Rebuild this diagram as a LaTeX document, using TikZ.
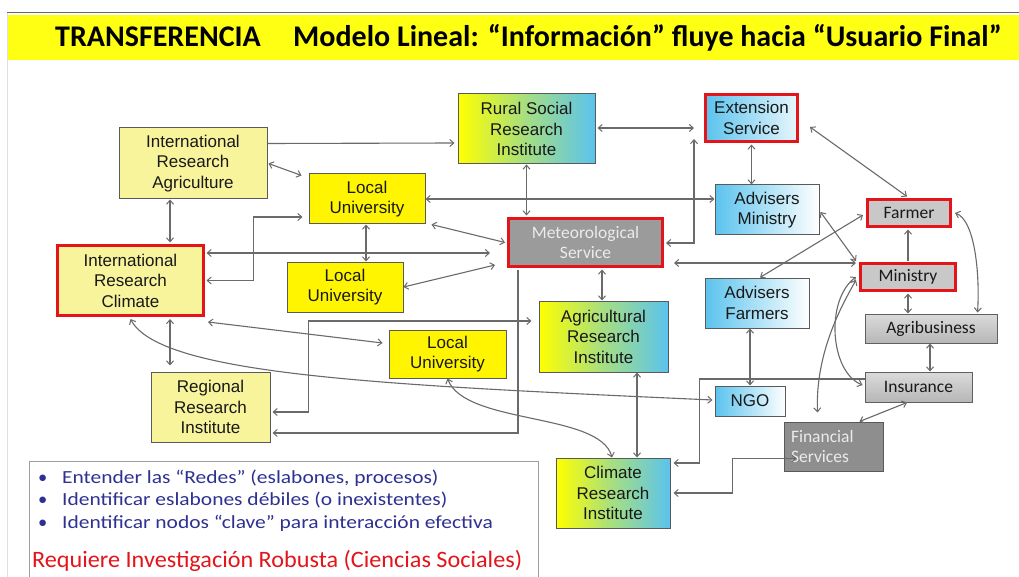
\documentclass[tikz,border=0pt]{standalone}
\usepackage{fontspec}
\setmainfont{Liberation Sans}
\newfontfamily\carl{Carlito}
\usetikzlibrary{arrows.meta,calc}
\definecolor{lightyel}{HTML}{F8F49C}
\definecolor{brightyel}{HTML}{FFF500}
\definecolor{gyel}{HTML}{FFFF00}
\definecolor{gblue}{HTML}{5BC3EE}
\definecolor{bordergray}{HTML}{5A5A5A}
\definecolor{boxred}{HTML}{E3151B}
\definecolor{linegray}{HTML}{6A6A6A}
\definecolor{graybox}{HTML}{C8C8C8}
\definecolor{lgraybox}{HTML}{CBCBCB}
\definecolor{metgray}{HTML}{9B9B9B}
\definecolor{fsgray}{HTML}{8E8E8E}
\definecolor{navy}{HTML}{2E3192}
\definecolor{titleyel}{HTML}{FFFF14}
\begin{document}
\begin{tikzpicture}[x=1pt,y=-1pt,
  >={Straight Barb[length=4pt,width=7pt,line width=1pt]},
  con/.style={draw=linegray, line width=1.1pt},
  box/.style={draw=bordergray, line width=1pt, inner sep=0pt, align=center,
    text=black!90, font=\fontsize{17}{20.5}\selectfont},
  redbox/.style={box, draw=boxred, line width=3pt},
  lyel/.style={fill=lightyel},
  byel/.style={fill=brightyel},
  grad/.style={left color=gyel, right color=gblue, middle color=gyel!45!gblue},
  bgrad/.style={left color=gblue, right color=white},
  cbox/.style={font=\carl\fontsize{17.5}{20}\selectfont},
  btxt/.style={anchor=base west, inner sep=0pt, text=navy, font=\carl\fontsize{18.5}{22}\selectfont}
]
\useasboundingbox (0,0) rectangle (1019,577);
\fill[white] (0,0) rectangle (1019,577);
% slide frame and title band
\fill[titleyel] (7,15) rectangle (1019,60);
\draw[gray!80!black, line width=1pt] (7,13) -- (1019,13);
\draw[gray!25, line width=0.6pt] (7,13) -- (7,577);
\node[anchor=base west, inner sep=0pt, font=\carl\bfseries\fontsize{30}{36}\selectfont] (t1) at (55,47) {TRANSFERENCIA};
\node[anchor=base west, inner sep=0pt, font=\carl\bfseries\fontsize{30}{36}\selectfont] (t2) at (293,47) {Modelo Lineal: “Información” fluye hacia “Usuario Final”};

% nodes
\node[box,lyel,minimum width=148pt,minimum height=71pt] (ira) at (193,163.5) {International\\Research\\Agriculture};
\node[redbox,lyel,minimum width=146pt,minimum height=70pt] (irc) at (130.5,280.5) {International\\Research\\Climate};
\node[box,byel,minimum width=116pt,minimum height=50pt] (lu1) at (367,199) {Local\\University};
\node[box,byel,minimum width=116pt,minimum height=50pt] (lu2) at (345,287) {Local\\University};
\node[box,byel,minimum width=117pt,minimum height=48pt] (lu3) at (447.5,354) {Local\\University};
\node[box,lyel,minimum width=119pt,minimum height=70pt] (rri) at (210.5,407) {Regional\\Research\\Institute};
\node[box,grad,minimum width=137pt,minimum height=70pt] (rsri) at (526.5,129) {Rural Social\\Research\\Institute};
\node[redbox,fill=metgray,minimum width=154pt,minimum height=48pt,cbox,text=white!92!black] (met) at (585.5,242.5) {Meteorological\\Service};
\node[box,grad,minimum width=129pt,minimum height=71pt] (ari) at (603.5,336.5) {Agricultural\\Research\\Institute};
\node[box,grad,minimum width=114pt,minimum height=70pt] (cri) at (613,493) {Climate\\Research\\Institute};
\node[redbox,left color=gblue,right color=gblue!15,minimum width=92pt,minimum height=47pt] (ext) at (751.5,118) {Extension\\Service};
\node[box,bgrad,minimum width=104pt,minimum height=50pt] (adm) at (767,210) {Advisers\\Ministry};
\node[box,bgrad,minimum width=104pt,minimum height=50pt] (adf) at (757,303) {Advisers\\Farmers};
\node[box,bgrad,minimum width=70pt,minimum height=30pt] (ngo) at (750,401) {NGO};
\node[redbox,fill=graybox,cbox,minimum width=83pt,minimum height=27pt] (farmer) at (909,213) {Farmer};
\node[redbox,fill=graybox,cbox,minimum width=95pt,minimum height=27pt] (ministry) at (908,277) {Ministry};
\node[box,draw=gray!75!black,top color=lgraybox!70,bottom color=lgraybox!90!black,cbox,minimum width=132pt,minimum height=29pt] (agri) at (931,328.5) {Agribusiness};
\node[box,draw=gray!75!black,top color=lgraybox!70,bottom color=lgraybox!90!black,cbox,minimum width=107pt,minimum height=30pt] (ins) at (918.5,387) {Insurance};
\node[box,draw=gray!70!black,fill=fsgray,cbox,text=white!92!black,minimum width=99pt,minimum height=49pt,text width=85pt,inner xsep=7pt,align=left] (fs) at (833.5,446.5) {Financial\\Services};

% connectors
\draw[con,->] ($(ira.east)+(0,-20)$) -- ($(rsri.west)+(-3,14)$);
\draw[con,<->] ($(ira.east)+(1,0)$) -- ($(lu1.north west)+(-7,2)$);
\draw[con,<->] ($(ira.south)+(-23,0)$) -- ($(irc.north)+(39.5,-1.5)$);
\draw[con,<->] ($(rsri.east)+(2,-1)$) -- ($(ext.west)+(-10,10)$);
\draw[con,<->] ($(met.east)+(2,0.5)$) -| ($(ext.south west)+(-10,-4)$);
\draw[con,<->] (rsri.south) -- ($(rsri.south |- met.north)+(0,-1.5)$);
\draw[con,<->] (lu1.east) -- (lu1.east -| adm.west);
\draw[con,<->] ($(lu1.south east)+(6,0)$) -- ($(met.west)+(-2,0)$);
\draw[con,<->] ($(lu1.south)+(-1,0)$) -- ($(lu1.south |- lu2.north)+(-1,0)$);
\draw[con,<->] ($(irc.east)+(1.5,0)$) -- ++(47,0) |- ($(lu1.west)+(-6,18)$);
\draw[con,<->] ($(irc.east)+(1.5,-27.5)$) -- ($(met.west)+(-17,10.5)$);
\draw[con,<->] (lu2.east) -- ($(met.south west)+(-12,-3)$);
\draw[con,<->] ($(irc.south east)+(3,5)$) -- ($(lu3.west)+(-6,-11)$);
\draw[con,<->] ($(irc.south)+(39.5,2)$) -- ($(rri.north)+(-40.5,-6)$);
\draw[con,<->] ($(irc.south)+(0,2)$) .. controls (160,375) and (380,385) .. ($(ngo.west)+(-2,-1)$);
\draw[con,<->] (lu3.south) .. controls (465,425) and (600,412) .. ($(cri.north)+(-1,0)$);
\draw[con,<->] ($(ari.south)+(33.5,0)$) -- ($(cri.north)+(24,0)$);
\draw[con,<->] ($(met.south)+(16.5,1.5)$) -- ($(ari.north)+(-1.5,0)$);
\draw[con,->] ($(met.south west)+(11,1.5)$) |- ($(rri.east)+(2,26)$);
\draw[con,<->] ($(rri.east)+(2,5)$) -- ++(36,0) |- ($(ari.west)+(-7,-15.5)$);
\draw[con,<->] ($(met.east)+(10,20.5)$) -- ($(ministry.west)+(-3,-14)$);
\draw[con,<->] ($(ext.south)+(0,1.5)$) -- (ext.south |- adm.north);
\draw[con,<->] ($(ext.east)+(11,9)$) -- ($(farmer.north)+(-2,-1.5)$);
\draw[con,<->] ($(adm.east)+(1,2)$) -- ($(ministry.north west)+(-3,-1)$);
\draw[con,<->] ($(farmer.west)+(-3,2)$) -- ($(adf.north)+(3,0)$);
\draw[con,->] ($(ministry.north)+(0,-1.5)$) -- ($(ministry.north |- farmer.south)+(0,1.5)$);
\draw[con,<->] ($(farmer.east)+(3,0)$) .. controls (975,220) and (980,275) .. ($(agri.north east)+(-20,-1)$);
\draw[con,<->] ($(ministry.south)+(0,1.5)$) -- (ministry.south |- agri.north);
\draw[con,<->] ($(agri.south)+(-1,0)$) -- ($(ins.north)+(11.5,0)$);
\draw[con,<->] ($(ins.south)+(-11.5,0)$) -- ($(fs.north)+(26,0)$);
\draw[con,<->] ($(ministry.west)+(-3,0)$) .. controls (825,300) and (830,372) .. ($(ins.west)+(-2,-2)$);
\draw[con,<->] ($(ministry.west)+(-3,3)$) .. controls (845,300) and (815,350) .. ($(fs.north west)+(34,-9)$);
\draw[con,<->] ($(adf.south)+(-7,0)$) -- (ngo.north);
\draw[con,->] ($(ins.west)+(0,-8)$) -- ++(-165,0) |- ($(cri.east)+(3,-30)$);
\draw[con,<->] ($(fs.west)+(13,12)$) -- ++(-64,0) |- ($(cri.east)+(3,0)$);

% bottom text box
\draw[gray!75, line width=1pt] (29,578) -- (29,461) -- (538,461) -- (538,578);
\node[btxt] (b1) at (38,483) {•};
\node[btxt] (l1) at (62,483) {\scalebox{1.16}[1]{Entender las “Redes” (eslabones, procesos)}};
\node[btxt] (b2) at (38,505) {•};
\node[btxt] (l2) at (62,505) {\scalebox{1.16}[1]{Identificar eslabones débiles (o inexistentes)}};
\node[btxt] (b3) at (38,528) {•};
\node[btxt] (l3) at (62,528) {\scalebox{1.16}[1]{Identificar nodos “clave” para interacción efectiva}};
\node[btxt, text=boxred, font=\carl\fontsize{23.5}{26}\selectfont] (req) at (32,567) {\scalebox{1.03}[1]{Requiere Investigación Robusta (Ciencias Sociales)}};
\end{tikzpicture}
\end{document}
